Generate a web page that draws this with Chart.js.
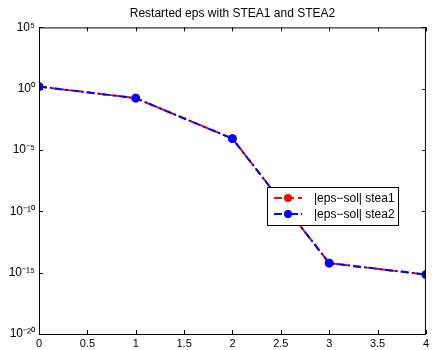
<!DOCTYPE html>
<html>
<head>
<meta charset="utf-8">
<script src="https://cdn.jsdelivr.net/npm/chart.js@4/dist/chart.umd.min.js"></script>
<style>
  html, body { margin: 0; padding: 0; background: #fff; }
  #wrap { width: 432px; height: 350px; }
</style>
</head>
<body>
<div id="wrap"><canvas id="c"></canvas></div>
<script>
// data
const iterations = [0, 1, 2, 3, 4];
const stea1 = [1.5, 0.17, 8.5e-5, 6e-15, 7e-16];
const stea2 = [1.5, 0.17, 8.5e-5, 6e-15, 7e-16];
const yExponents = [-20, -15, -10, -5, 0, 5];
const seriesLabels = ['|eps\u2212sol| stea1', '|eps\u2212sol| stea2'];

const FONT = 'Liberation Sans, Arial, Helvetica, sans-serif';
const sup = { '0': '\u2070', '1': '\u00b9', '2': '\u00b2', '3': '\u00b3', '4': '\u2074',
  '5': '\u2075', '6': '\u2076', '7': '\u2077', '8': '\u2078', '9': '\u2079', '-': '\u207b' };

const pts = (ys) => iterations.map((x, i) => ({ x: x, y: ys[i] }));

// box, inward ticks and legend, drawn after the datasets
const boxPlugin = {
  id: 'box',
  afterDraw(chart) {
    const { ctx, chartArea: a, scales } = chart;
    ctx.save();
    ctx.strokeStyle = '#000';
    ctx.lineWidth = 1;
    ctx.setLineDash([]);
    ctx.strokeRect(a.left + 0.5, a.top + 0.5, a.right - a.left - 1, a.bottom - a.top);
    ctx.beginPath();
    scales.x.ticks.forEach((t) => {
      const px = Math.round(scales.x.getPixelForValue(t.value)) + 0.5;
      ctx.moveTo(px, a.bottom); ctx.lineTo(px, a.bottom - 4);
      ctx.moveTo(px, a.top); ctx.lineTo(px, a.top + 4);
    });
    scales.y.ticks.forEach((t) => {
      const py = Math.round(scales.y.getPixelForValue(t.value)) + 0.5;
      ctx.moveTo(a.left, py); ctx.lineTo(a.left + 4, py);
      ctx.moveTo(a.right, py); ctx.lineTo(a.right - 4, py);
    });
    ctx.stroke();

    // legend
    const lx = 267, ly = 187, lw = 131, lh = 38;
    ctx.fillStyle = '#fff';
    ctx.fillRect(lx, ly, lw, lh);
    ctx.strokeRect(lx + 0.5, ly + 0.5, lw, lh);
    chart.data.datasets.forEach((ds, i) => {
      const y = ly + 11 + i * 16;
      ctx.strokeStyle = ds.borderColor;
      ctx.lineWidth = 2;
      ctx.setLineDash(ds.borderDash);
      ctx.beginPath();
      ctx.moveTo(274, y); ctx.lineTo(302, y);
      ctx.stroke();
      ctx.setLineDash([]);
      ctx.fillStyle = ds.pointBackgroundColor;
      ctx.beginPath();
      ctx.arc(288, y, 4, 0, Math.PI * 2);
      ctx.fill();
      ctx.fillStyle = '#000';
      ctx.font = '12px ' + FONT;
      ctx.textBaseline = 'middle';
      ctx.fillText(ds.label, 314, y + 0.5);
    });
    ctx.restore();
  }
};

new Chart(document.getElementById('c'), {
  type: 'line',
  data: {
    datasets: [
      {
        label: seriesLabels[0],
        data: pts(stea1),
        borderColor: '#ff0000',
        pointBackgroundColor: '#ff0000',
        pointBorderColor: '#ff0000',
        borderWidth: 2,
        borderDash: [8, 4],
        pointRadius: 3.4,
        tension: 0,
        order: 2
      },
      {
        label: seriesLabels[1],
        data: pts(stea2),
        borderColor: '#0000ff',
        pointBackgroundColor: '#0000ff',
        pointBorderColor: '#0000ff',
        borderWidth: 2,
        borderDash: [8, 3, 2, 3],
        pointRadius: 3.4,
        tension: 0,
        order: 1
      }
    ]
  },
  options: {
    responsive: true,
    maintainAspectRatio: false,
    animation: false,
    layout: { padding: { left: 0, right: 4, top: 0, bottom: 0 } },
    plugins: {
      legend: { display: false },
      tooltip: { enabled: false },
      title: {
        display: true,
        fullSize: false,
        text: 'Restarted eps with STEA1 and STEA2',
        color: '#000',
        font: { family: FONT, size: 12, weight: 'normal' },
        padding: { top: 6, bottom: 7 }
      }
    },
    scales: {
      x: {
        type: 'linear',
        min: 0,
        max: 4,
        grid: { display: false, drawTicks: false, tickLength: 0 },
        border: { display: false },
        ticks: {
          stepSize: 0.5,
          color: '#000',
          padding: 3,
          font: { family: FONT, size: 11 },
          callback: (v) => String(v)
        },
        afterFit: (s) => { s.height = 16; }
      },
      y: {
        type: 'logarithmic',
        min: 1e-20,
        max: 1e5,
        grid: { display: false, drawTicks: false, tickLength: 0 },
        border: { display: false },
        afterBuildTicks: (s) => { s.ticks = yExponents.map((e) => ({ value: Math.pow(10, e) })); },
        ticks: {
          color: '#000',
          padding: 4,
          font: { family: FONT, size: 12 },
          callback: (v) => {
            const e = Math.round(Math.log10(v));
            return '10' + String(e).split('').map((c) => sup[c]).join('');
          }
        },
        afterFit: (s) => { s.width = 39; }
      }
    }
  },
  plugins: [boxPlugin]
});
</script>
</body>
</html>
